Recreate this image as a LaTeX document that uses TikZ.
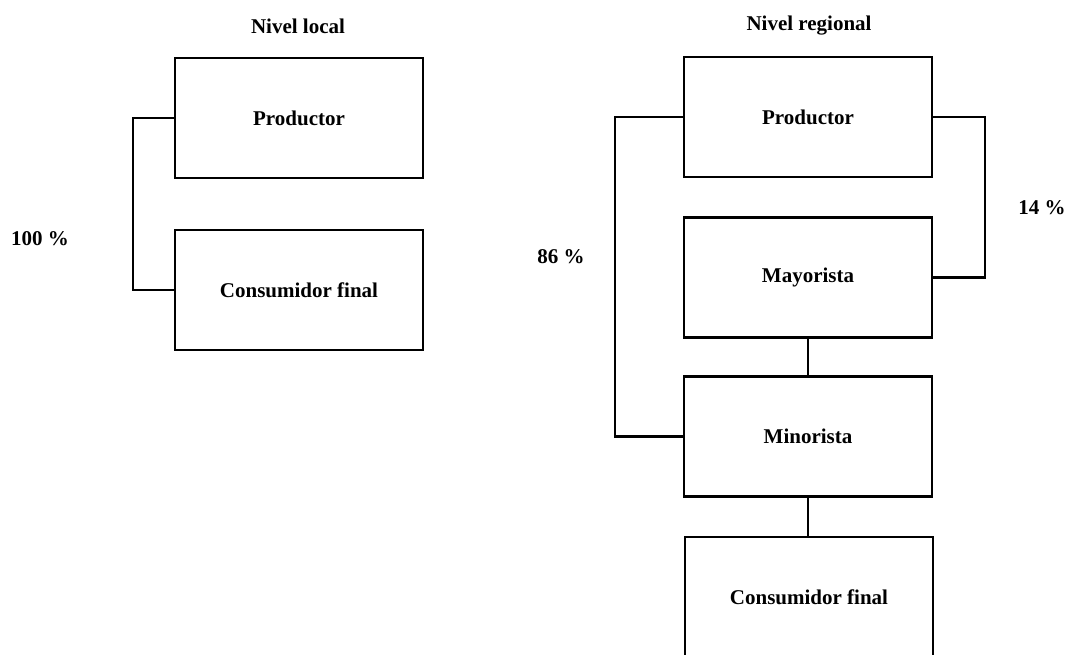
\documentclass[tikz,border=0pt]{standalone}
\usepackage{fontspec}
\setmainfont{Liberation Serif}
\begin{document}
\begin{tikzpicture}[x=0.5pt,y=-0.5pt,
  box/.style={draw,line width=1.4pt,minimum width=124pt,minimum height=60pt,inner sep=0pt,font=\fontsize{10.5}{12}\selectfont\bfseries},
  lbl/.style={font=\fontsize{10.5}{12}\selectfont\bfseries,inner sep=0pt},
  conn/.style={line width=1.2pt}]
\clip (0,0) rectangle (1068,654);
\useasboundingbox (0,0) rectangle (1068,654);
% Nivel local
\node[lbl] (tl) at (298,26) {Nivel local};
\node[box] (lp) at (299,118) {Productor};
\node[box] (lc) at (299,290) {Consumidor final};
\coordinate (lx) at (133,0);
\draw[conn] (lp.west) -- (lp.west -| lx) |- (lc.west);
\node[lbl] (l100) at (40,239) {100 \%};
% Nivel regional
\node[lbl] (tr) at (809,26) {Nivel regional};
\node[box] (rp) at (808,117) {Productor};
\node[box] (rma) at (808,277.5) {Mayorista};
\node[box] (rmi) at (808,436.5) {Minorista};
\node[box] (rc) at (809,597) {Consumidor final};
\coordinate (rx1) at (615,0);
\coordinate (rx2) at (985,0);
\draw[conn] (rp.west) -- (rp.west -| rx1) |- (rmi.west);
\draw[conn] (rp.east) -- (rp.east -| rx2) |- (rma.east);
\draw[conn] (rma.south) -- (rmi.north);
\draw[conn] (rmi.south) -- (rc.north -| rmi.south);
\node[lbl] (r86) at (561,257) {86 \%};
\node[lbl] (r14) at (1042,208) {14 \%};
\end{tikzpicture}
\end{document}
